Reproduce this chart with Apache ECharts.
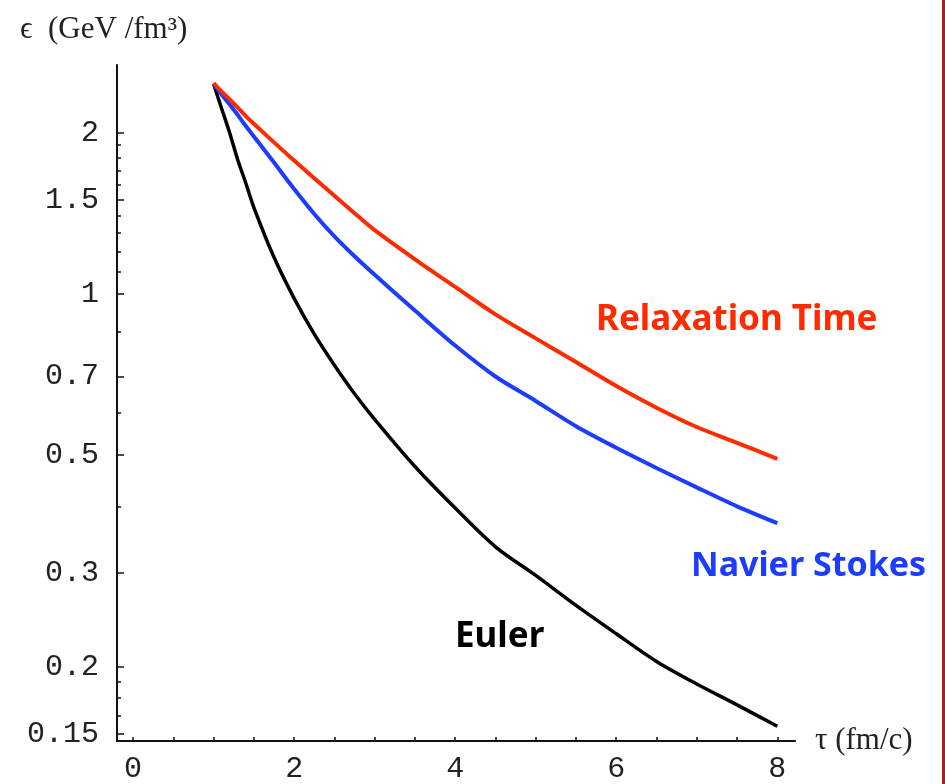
<!DOCTYPE html>
<html>
<head>
<meta charset="utf-8">
<script src="https://cdn.jsdelivr.net/npm/echarts@6/dist/echarts.min.js"></script>
<style>
  html, body { margin: 0; padding: 0; background: #fff; }
  #chart { width: 945px; height: 784px; }
</style>
</head>
<body>
<div id="chart"></div>
<script>
// proper time tau (fm/c)
const tauGrid = [1, 1.1, 1.2, 1.3, 1.4, 1.5, 1.75, 2, 2.25, 2.5, 2.75, 3, 3.5, 4, 4.5, 5, 5.5, 6, 6.5, 7, 7.5, 8]
// energy density (GeV/fm^3)
const relaxation = [2.48, 2.39, 2.31, 2.23, 2.15, 2.08, 1.92, 1.775, 1.645, 1.525, 1.415, 1.315, 1.16, 1.03, 0.915, 0.825, 0.745, 0.672, 0.612, 0.563, 0.526, 0.491]
const navierStokes = [2.47, 2.36, 2.26, 2.16, 2.06, 1.97, 1.76, 1.57, 1.41, 1.28, 1.175, 1.085, 0.93, 0.80, 0.70, 0.63, 0.565, 0.515, 0.472, 0.434, 0.400, 0.372]
const euler = [2.47, 2.22, 2.0, 1.78, 1.61, 1.45, 1.17, 0.98, 0.84, 0.735, 0.65, 0.582, 0.475, 0.397, 0.336, 0.297, 0.261, 0.231, 0.205, 0.186, 0.170, 0.155]

const xTicks = [0, 0.5, 1, 1.5, 2, 2.5, 3, 3.5, 4, 4.5, 5, 5.5, 6, 6.5, 7, 7.5, 8]
const xLabels = [0, 2, 4, 6, 8]
const yLabels = [0.15, 0.2, 0.3, 0.5, 0.7, 1, 1.5, 2]
const yMinor = [0.1625, 0.175, 0.1875, 0.4, 0.6, 0.85, 1.1, 1.2, 1.3, 1.4, 1.6, 1.7, 1.8, 1.9]

const RED = '#ff2b00'
const BLUE = '#1c3cff'
const monoFont = '"Liberation Mono", "DejaVu Sans Mono", monospace'
const serifFont = '"Liberation Serif", "DejaVu Serif", serif'
const labelFont = '"Noto Sans", "DejaVu Sans", sans-serif'

const pairs = (ys) => tauGrid.map((t, i) => [t, ys[i]])

const chart = echarts.init(document.getElementById('chart'), null, { renderer: 'canvas' })

const yBase = {
  type: 'log',
  logBase: 10,
  min: 0.1455,
  max: 2.68,
  position: 'left',
  splitLine: { show: false }
}

const option = {
  animation: false,
  backgroundColor: '#fff',
  grid: { left: 117, right: 150, top: 65, bottom: 42, containLabel: false },
  xAxis: {
    type: 'value',
    min: -0.2,
    max: 8.22,
    axisLine: { onZero: false, lineStyle: { color: '#111', width: 2 } },
    axisTick: { inside: true, length: 4, customValues: xTicks, lineStyle: { color: '#111', width: 1.5 } },
    axisLabel: {
      customValues: xLabels,
      margin: 13,
      color: '#222',
      fontFamily: monoFont,
      fontSize: 30
    },
    splitLine: { show: false }
  },
  yAxis: [
    Object.assign({}, yBase, {
      axisLine: { onZero: false, lineStyle: { color: '#111', width: 2 } },
      axisTick: { inside: true, length: 7, customValues: yLabels, lineStyle: { color: '#111', width: 1.5 } },
      axisLabel: {
        customValues: yLabels,
        margin: 18,
        color: '#222',
        fontFamily: monoFont,
        fontSize: 30,
        formatter: (v) => String(+Number(v).toPrecision(3))
      }
    }),
    Object.assign({}, yBase, {
      axisLine: { show: false, onZero: false },
      axisTick: { inside: true, length: 4, customValues: yMinor, lineStyle: { color: '#111', width: 1.5 } },
      axisLabel: { show: false }
    })
  ],
  series: [
    {
      name: 'Euler',
      type: 'line',
      data: pairs(euler),
      smooth: 0.3,
      symbol: 'none',
      lineStyle: { color: '#000', width: 3.5 }
    },
    {
      name: 'Navier Stokes',
      type: 'line',
      data: pairs(navierStokes),
      smooth: 0.3,
      symbol: 'none',
      lineStyle: { color: BLUE, width: 4 }
    },
    {
      name: 'Relaxation Time',
      type: 'line',
      data: pairs(relaxation),
      smooth: 0.3,
      symbol: 'none',
      lineStyle: { color: RED, width: 4 }
    }
  ],
  graphic: [
    {
      type: 'text', left: 20, top: 14,
      style: { text: 'ϵ  (GeV /fm³)', font: '31px ' + serifFont, fill: '#222' }
    },
    {
      type: 'text', left: 815, top: 725,
      style: { text: 'τ (fm/c)', font: '31px ' + serifFont, fill: '#222' }
    },
    {
      type: 'text', left: 596, top: 303,
      style: { text: 'Relaxation Time', font: 'bold 35px ' + labelFont, fill: RED }
    },
    {
      type: 'text', left: 691, top: 549,
      style: { text: 'Navier Stokes', font: 'bold 34px ' + labelFont, fill: BLUE }
    },
    {
      type: 'text', left: 455, top: 620,
      style: { text: 'Euler', font: 'bold 35px ' + labelFont, fill: '#000' }
    },
    {
      type: 'rect', right: 0, top: 0,
      shape: { width: 3, height: 784 },
      style: { fill: '#b31c1c' }
    }
  ]
}

chart.setOption(option)

window.addEventListener('resize', () => {
  chart?.resize()
})
</script>
</body>
</html>
